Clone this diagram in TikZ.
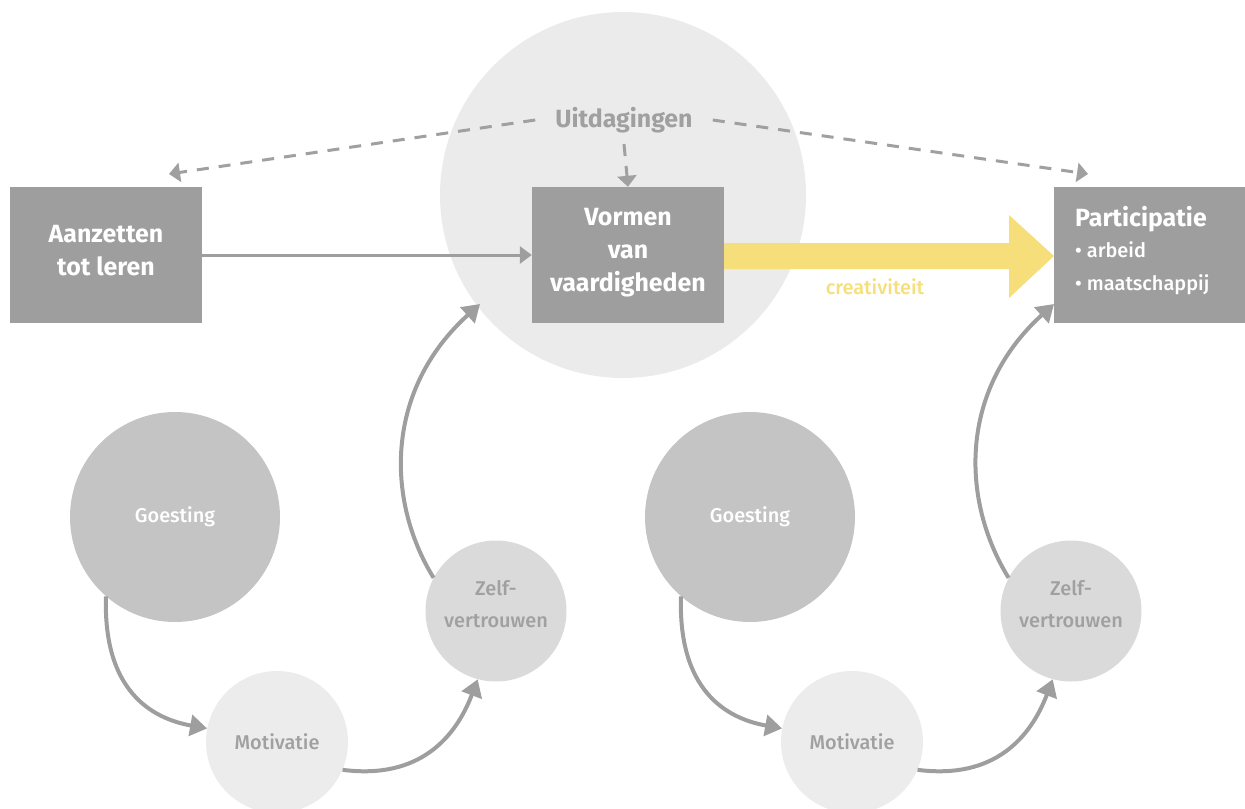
\documentclass[tikz,border=0pt]{standalone}
\usepackage{fontspec}
\setmainfont{Fira Sans}
\newfontfamily\medfont{Fira Sans Medium}
\usetikzlibrary{arrows.meta}
\definecolor{boxgray}{HTML}{9E9E9E}
\definecolor{bigc}{HTML}{EBEBEB}
\definecolor{goec}{HTML}{C4C4C4}
\definecolor{zelc}{HTML}{DADADA}
\definecolor{motc}{HTML}{ECECEC}
\definecolor{yel}{HTML}{F6DF7A}
\definecolor{txtgray}{HTML}{A0A0A0}
\tikzset{
  box/.style={rectangle, fill=boxgray, minimum width=192bp, minimum height=136bp, inner sep=0pt},
  boxtext/.style={text=white, align=center, inner sep=0pt, font=\fontsize{25}{33}\selectfont\bfseries},
  goe/.style={circle, fill=goec, minimum size=210bp, inner sep=0pt, text=white, font=\fontsize{20}{26}\selectfont\medfont},
  mot/.style={circle, fill=motc, minimum size=142bp, inner sep=0pt, text=txtgray, font=\fontsize{20}{26}\selectfont\medfont},
  zel/.style={circle, fill=zelc, minimum size=141bp, inner sep=0pt},
  zeltext/.style={text=txtgray, align=center, inner sep=0pt, font=\fontsize{20}{32}\selectfont\medfont},
  conn/.style={draw=boxgray, line width=4bp, -{Triangle[length=17bp,width=21bp]}},
  thinconn/.style={draw=boxgray, line width=3bp, -{Triangle[length=12bp,width=17bp]}},
  dashconn/.style={draw=txtgray, line width=3bp, dash pattern=on 12bp off 10bp, -{Triangle[length=11bp,width=19bp]}},
}
\begin{document}
\begin{tikzpicture}[x=1bp,y=-1bp]
\useasboundingbox (0,0) rectangle (1245,809);
% big background circle
\node[circle, fill=bigc, minimum size=366bp, inner sep=0pt] (big) at (623,195) {};
\node[text=txtgray, font=\fontsize{25}{28}\selectfont\bfseries, inner xsep=20bp, inner ysep=11bp] (uit) at (624,120) {Uitdagingen};
% boxes
\node[box] (aan) at (106,255) {};
\node[boxtext] (aant) at (106,250.5) {Aanzetten\\tot leren};
\node[box] (vor) at (628,255) {};
\node[boxtext] (vort) at (628,253) {Vormen\\van\\vaardigheden};
\node[box] (par) at (1149.5,255) {};
\node[boxtext, align=left, anchor=west] (part) at (1075,250.5) {{\fontsize{25}{33}\selectfont\bfseries Participatie}\\[-2bp]{\fontsize{20}{32}\selectfont\mdseries\medfont • arbeid}\\{\fontsize{20}{32}\selectfont\mdseries\medfont • maatschappij}};
% dashed arrows
\coordinate (tl) at (169,174);
\coordinate (tr) at (1088,174);
\draw[dashconn] (uit.west) -- (tl);
\draw[dashconn] (uit.east) -- (tr);
\draw[dashconn] (uit.south) -- (vor.north);
% solid arrow
\draw[thinconn] (aan) -- (vor);
% yellow arrow
\fill[yel] (724,243) -- (1009,243) -- (1009,215) -- (1054,256) -- (1009,298) -- (1009,269) -- (724,269) -- cycle;
\node[text=yel, font=\fontsize{20}{22}\selectfont\medfont] (cre) at (875,287) {creativiteit};
% left cycle
\node[goe] (g1) at (175,517) {Goesting};
\node[mot] (m1) at (277,742) {Motivatie};
\node[zel] (z1) at (496,611) {};
\node[zeltext] (z1t) at (496,604) {Zelf-\\vertrouwen};
\coordinate (e1) at (480,304);
\draw[conn] (g1.229) .. controls +(-3,94) and +(-56,-10) .. (m1.169);
\draw[conn] (m1.337) .. controls +(77,10) and +(-22,58) .. (z1.255);
\draw[conn] (z1.152) .. controls +(-48,-78) and +(-95,86) .. (e1);
% right cycle
\node[goe] (g2) at (750,517) {Goesting};
\node[mot] (m2) at (852,742) {Motivatie};
\node[zel] (z2) at (1071,611) {};
\node[zeltext] (z2t) at (1071,604) {Zelf-\\vertrouwen};
\coordinate (e2) at (1054,304);
\draw[conn] (g2.229) .. controls +(-3,94) and +(-56,-10) .. (m2.169);
\draw[conn] (m2.337) .. controls +(77,10) and +(-22,58) .. (z2.255);
\draw[conn] (z2.152) .. controls +(-48,-78) and +(-95,86) .. (e2);
\end{tikzpicture}
\end{document}
